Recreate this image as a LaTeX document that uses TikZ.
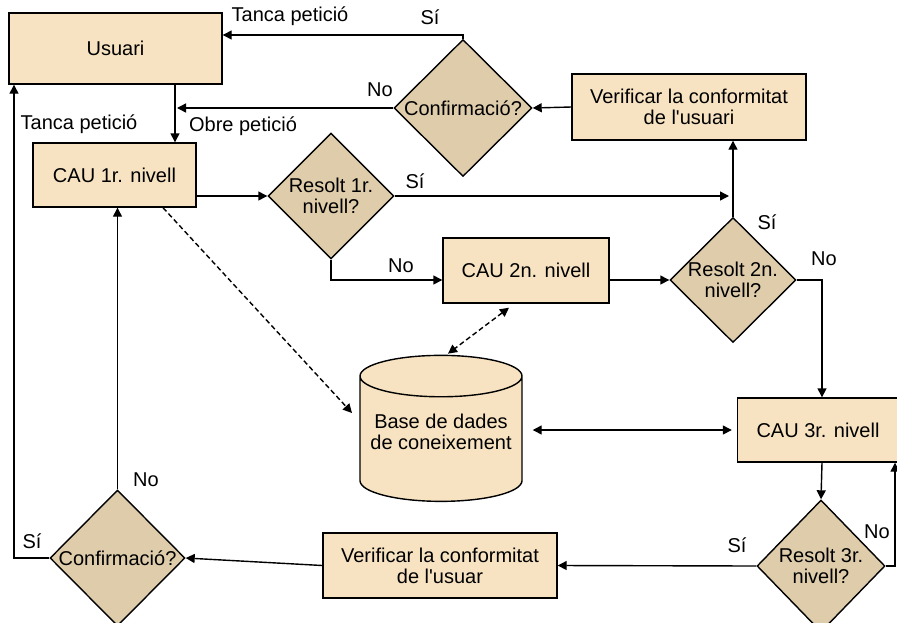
\documentclass[tikz,border=0pt]{standalone}
\usepackage{fontspec}
\newfontfamily\labfont{Liberation Sans}
\usetikzlibrary{arrows.meta,shapes.geometric}
\definecolor{boxfill}{RGB}{247,227,193}
\definecolor{diafill}{RGB}{222,204,170}

\begin{document}
\begin{tikzpicture}[
    x=1pt, y=-1pt,
    every node/.style={font=\labfont\fontsize{20}{21}\selectfont},
    box/.style={rectangle, draw, fill=boxfill, line width=1.4pt, align=center, inner sep=0pt},
    dia/.style={diamond, draw, fill=diafill, line width=1.4pt, inner sep=0pt},
    db/.style={cylinder, shape border rotate=90, draw, fill=boxfill, line width=1.4pt, align=center, aspect=0.28},
    txt/.style={align=center, inner sep=0pt},
    conn/.style={-{Triangle[length=9pt,width=9pt]}, line width=1.4pt},
    both/.style={{Triangle[length=9pt,width=9pt]}-{Triangle[length=9pt,width=9pt]}, line width=1.4pt},
    dashconn/.style={conn, dash pattern=on 5pt off 3pt},
    dashboth/.style={both, dash pattern=on 5pt off 3pt},
    lab/.style={inner sep=0pt}
]
\useasboundingbox (0,0) rectangle (897,622);
\clip (0,0) rectangle (897,622);

% caixes
\node[box, minimum width=213pt, minimum height=71pt] (usuari) at (115.5,48.5) {Usuari};
\node[box, minimum width=163pt, minimum height=64pt] (cau1) at (114.5,175) {CAU 1r. nivell};
\node[box, minimum width=234pt, minimum height=66pt] (verif1) at (689,107) {Verificar la conformitat\\de l'usuari};
\node[box, minimum width=166pt, minimum height=65pt] (cau2) at (526,270.5) {CAU 2n. nivell};
\node[box, minimum width=161pt, minimum height=64pt] (cau3) at (818,430) {CAU 3r. nivell};
\node[box, minimum width=234pt, minimum height=65pt] (verif2) at (440,565.5) {Verificar la conformitat\\de l'usuar};
\node[db, minimum width=162pt, minimum height=146pt] (cyl) at (441,442) {Base de dades\\de coneixement\rule[-20pt]{0pt}{20pt}};

% decisions
\node[dia, minimum width=138pt, minimum height=137pt, label={[txt]center:Confirmació?}] (conf1) at (463,108) {};
\node[dia, minimum width=126pt, minimum height=126pt, label={[txt]center:Resolt 1r.\\nivell?}] (res1) at (331,196) {};
\node[dia, minimum width=126pt, minimum height=125pt, label={[txt]center:Resolt 2n.\\nivell?}] (res2) at (733,280) {};
\node[dia, minimum width=128pt, minimum height=132pt, label={[txt]center:Resolt 3r.\\nivell?}] (res3) at (821,566) {};
\node[dia, minimum width=135pt, minimum height=136pt, label={[txt]center:Confirmació?}] (conf2) at (117.5,558) {};

% connexions
\draw[conn] (conf1.north) |- ([yshift=13.5pt]usuari.east);
\coordinate (obre) at ([xshift=59.5pt]usuari.south);
\draw[conn] (obre) -- (obre |- cau1.north);
\draw[conn, shorten >=2pt] (conf1.west) -- (conf1.west -| obre);
\draw[conn] (verif1.west) -- (conf1.east);
\draw[conn] (cau1.east |- res1.west) -- (res1.west);
\draw[conn, shorten >=4pt] (res1.east) -- (res1.east -| res2.north);
\draw[conn] (res2.north) -- (res2.north |- verif1.south);
\draw[conn] (res1.south) |- (cau2.west |- res2.west);
\draw[conn] (cau2.east |- res2.west) -- (res2.west);
\draw[conn] (res2.east) -| ([xshift=4pt]cau3.north);
\draw[dashconn] ([xshift=48.5pt]cau1.south) -- ([xshift=-89pt,yshift=29pt]cyl.center);
\draw[dashboth] ([xshift=-17pt,yshift=-4pt]cau2.south) -- ([xshift=7pt,yshift=1pt]cyl.north);
\draw[both, shorten <=10pt, shorten >=5pt] (cau3.west -| cyl.east) -- (cau3.west);
\draw[conn] ([xshift=4pt]cau3.south) -- (res3.north);
\draw[conn] (res3.east) -| ([xshift=77pt]cau3.south);
\draw[conn] (res3.west) -- (verif2.east);
\draw[conn] (verif2.west) -- (conf2.east);
\draw[conn] (conf2.west) -| ([xshift=-101.5pt]usuari.south);
\draw[conn] (conf2.north) -- (conf2.north |- cau1.south);

% etiquetes
\node[lab] (tanca1) at (290,16) {Tanca petició};
\node[lab] (si1) at (430,17) {Sí};
\node[lab] (no1) at (380,90) {No};
\node[lab] (tanca2) at (79,124) {Tanca petició};
\node[lab] (obrep) at (243,126) {Obre petició};
\node[lab] (si2) at (415,181) {Sí};
\node[lab] (no2) at (401,266) {No};
\node[lab] (si3) at (767,222) {Sí};
\node[lab] (no3) at (824,259) {No};
\node[lab] (no4) at (877,532) {No};
\node[lab] (si4) at (737,545) {Sí};
\node[lab] (si5) at (32,541) {Sí};
\node[lab] (no5) at (146,480) {No};
\end{tikzpicture}
\end{document}
